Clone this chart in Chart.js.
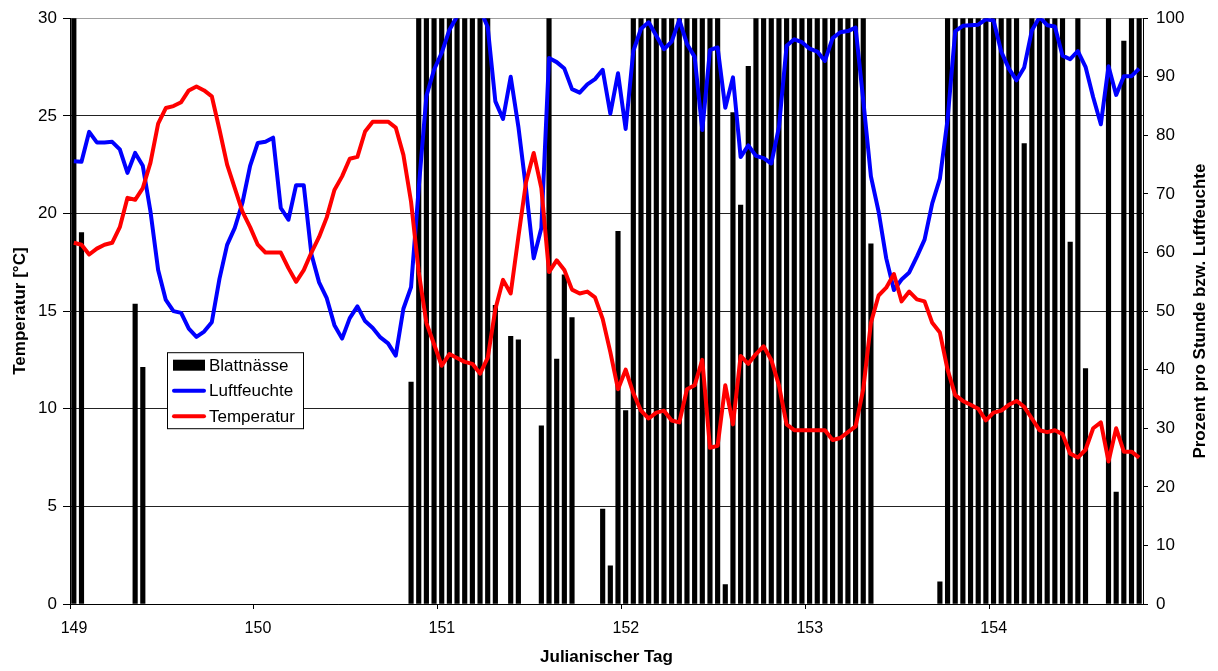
<!DOCTYPE html>
<html lang="de">
<head>
<meta charset="utf-8">
<title>Blattnässe, Luftfeuchte und Temperatur</title>
<script src="https://cdn.jsdelivr.net/npm/chart.js@4.4.1/dist/chart.umd.min.js"></script>
<style>
  html, body { margin: 0; padding: 0; background: #fff; }
  #wrap { width: 1218px; height: 671px; }
</style>
</head>
<body>
<div id="wrap"><canvas id="chart" width="1218" height="671"></canvas></div>
<script>
// Stundenwerte ab Tag 149, 0:00 Uhr
const ersterTag = 149;
const achsenTage = [149, 150, 151, 152, 153, 154];

// Temperatur [°C], je Tag 24 Stundenwerte
const temp149 = [18.5, 18.4, 17.9, 18.2, 18.4, 18.5, 19.3, 20.8, 20.7, 21.3, 22.6, 24.6, 25.4, 25.5, 25.7, 26.3, 26.5, 26.3, 26.0, 24.3, 22.5, 21.3, 20.1, 19.3];
const temp150 = [18.4, 18.0, 18.0, 18.0, 17.2, 16.5, 17.1, 18.0, 18.8, 19.8, 21.2, 21.9, 22.8, 22.9, 24.2, 24.7, 24.7, 24.7, 24.4, 23.0, 20.6, 17.0, 14.4, 13.3];
const temp151 = [12.2, 12.8, 12.6, 12.4, 12.3, 11.8, 12.6, 15.1, 16.6, 15.9, 18.8, 21.6, 23.1, 21.3, 17.0, 17.6, 17.1, 16.1, 15.9, 16.0, 15.7, 14.6, 12.9, 11.0];
const temp152 = [12.0, 10.8, 9.9, 9.5, 9.8, 9.9, 9.4, 9.3, 11.0, 11.2, 12.5, 8.0, 8.1, 11.2, 9.2, 12.7, 12.3, 12.8, 13.2, 12.5, 11.2, 9.2, 8.9, 8.9];
const temp153 = [8.9, 8.9, 8.9, 8.4, 8.5, 8.8, 9.1, 11.0, 14.4, 15.8, 16.2, 16.9, 15.5, 16.0, 15.6, 15.5, 14.4, 13.9, 12.0, 10.7, 10.4, 10.2, 10.0, 9.4];
const temp154 = [9.8, 9.9, 10.2, 10.4, 10.1, 9.5, 8.9, 8.8, 8.9, 8.7, 7.7, 7.5, 7.9, 9.0, 9.3, 7.3, 9.0, 7.8, 7.8, 7.5];

// relative Luftfeuchte [%]
const rf149 = [75.6, 75.5, 80.6, 78.8, 78.8, 78.9, 77.6, 73.6, 77.0, 74.8, 67.0, 57.0, 51.9, 50.0, 49.7, 47.0, 45.6, 46.5, 48.1, 55.5, 61.3, 64.2, 68.5, 74.8];
const rf150 = [78.7, 78.9, 79.6, 67.6, 65.6, 71.5, 71.5, 59.7, 54.9, 52.2, 47.6, 45.3, 48.8, 50.8, 48.3, 47.1, 45.5, 44.5, 42.4, 50.4, 54.1, 71.0, 86.7, 91.2];
const rf151 = [94.1, 98.0, 100.3, 102.5, 102.5, 101.5, 98.5, 85.8, 82.8, 90.0, 81.5, 70.9, 59.0, 64.2, 93.2, 92.5, 91.4, 87.9, 87.3, 88.7, 89.6, 91.2, 83.7, 90.6];
const rf152 = [81.1, 94.4, 98.2, 99.3, 97.0, 94.7, 96.0, 99.7, 95.6, 93.4, 80.9, 94.6, 95.0, 84.7, 89.9, 76.3, 78.3, 76.5, 76.1, 75.2, 81.4, 95.3, 96.4, 95.9];
const rf153 = [94.8, 94.3, 92.7, 96.6, 97.6, 97.8, 98.4, 86.0, 73.0, 67.0, 59.0, 53.6, 55.4, 56.6, 59.3, 62.2, 68.4, 72.6, 82.7, 97.8, 98.7, 98.8, 98.9, 99.8];
const rf154 = [99.6, 94.3, 91.4, 89.4, 91.6, 97.9, 100.2, 98.8, 98.6, 93.6, 93.0, 94.4, 91.7, 86.5, 81.9, 91.8, 86.9, 90.1, 90.1, 91.4];

// Blattnässe [% der Stunde]
const bn149 = [100, 63.4, 0, 0, 0, 0, 0, 0, 51.2, 40.4, 0, 0, 0, 0, 0, 0, 0, 0, 0, 0, 0, 0, 0, 0];
const bn150 = [0, 0, 0, 0, 0, 0, 0, 0, 0, 0, 0, 0, 0, 0, 0, 0, 0, 0, 0, 0, 37.9, 100, 100, 100];
const bn151 = [100, 100, 100, 100, 100, 100, 100, 51.0, 0, 45.7, 45.1, 0, 0, 30.4, 100, 41.8, 56.2, 48.9, 0, 0, 0, 16.2, 6.5, 63.6];
const bn152 = [33.0, 100, 100, 100, 100, 100, 100, 100, 100, 100, 100, 100, 100, 3.3, 83.9, 68.1, 91.8, 100, 100, 100, 100, 100, 100, 100];
const bn153 = [100, 100, 100, 100, 100, 100, 100, 100, 61.5, 0, 0, 0, 0, 0, 0, 0, 0, 3.8, 100, 100, 100, 100, 100, 100];
const bn154 = [100, 100, 100, 100, 78.6, 100, 100, 100, 100, 100, 61.8, 100, 40.2, 0, 0, 100, 19.1, 96.1, 100, 100];

const temperatur = [].concat(temp149, temp150, temp151, temp152, temp153, temp154);
const luftfeuchte = [].concat(rf149, rf150, rf151, rf152, rf153, rf154);
const blattnaesse = [].concat(bn149, bn150, bn151, bn152, bn153, bn154);

// Messzeitpunkt jeweils in der Mitte der Stunde, als Julianischer Tag
const zeit = temperatur.map((_, i) => ersterTag + (i + 0.5) / 24);
const letzterZeitpunkt = ersterTag + temperatur.length / 24;
const punkte = werte => werte.map((v, i) => ({ x: zeit[i], y: v }));

const SCHRIFT = "'Liberation Sans', Arial, sans-serif";
const titelRechts = 'Prozent pro Stunde bzw. Luftfeuchte';

// Legende als Kasten innerhalb der Zeichenfläche
const legendeImDiagramm = {
  id: 'legendeImDiagramm',
  afterDraw(chart) {
    const { ctx, chartArea } = chart;
    const x0 = chartArea.left + 97, y0 = chartArea.top + 334, w = 137, h = 77;
    ctx.save();
    ctx.fillStyle = '#fff';
    ctx.fillRect(x0, y0, w, h);
    ctx.strokeStyle = '#000';
    ctx.lineWidth = 1;
    ctx.strokeRect(x0 + 0.5, y0 + 0.5, w - 1, h - 1);
    ctx.font = '17px ' + SCHRIFT;
    ctx.textBaseline = 'middle';
    ctx.textAlign = 'left';
    chart.data.datasets.forEach((ds, i) => {
      const cy = y0 + 13 + i * 25.5;
      if (ds.type === 'bar') {
        ctx.fillStyle = ds.backgroundColor;
        ctx.fillRect(x0 + 6, cy - 5.5, 32, 11);
      } else {
        ctx.strokeStyle = ds.borderColor;
        ctx.lineWidth = 4;
        ctx.lineCap = 'round';
        ctx.beginPath();
        ctx.moveTo(x0 + 7, cy);
        ctx.lineTo(x0 + 37, cy);
        ctx.stroke();
      }
      ctx.fillStyle = '#000';
      ctx.fillText(ds.label, x0 + 42, cy + 1);
    });
    ctx.restore();
  }
};

// Titel der rechten Achse, von unten nach oben gelesen
const rechterAchsentitel = {
  id: 'rechterAchsentitel',
  afterDraw(chart) {
    const { ctx, chartArea } = chart;
    ctx.save();
    ctx.translate(chart.width - 18, (chartArea.top + chartArea.bottom) / 2);
    ctx.rotate(-Math.PI / 2);
    ctx.font = 'bold 17px ' + SCHRIFT;
    ctx.fillStyle = '#000';
    ctx.textAlign = 'center';
    ctx.textBaseline = 'middle';
    ctx.fillText(titelRechts, 0, 0);
    ctx.restore();
  }
};

new Chart(document.getElementById('chart'), {
  type: 'bar',
  data: {
    datasets: [
      {
        type: 'bar',
        label: 'Blattnässe',
        // Stunden ohne Blattnässe bekommen keinen Balken
        data: punkte(blattnaesse).filter(p => p.y > 0),
        yAxisID: 'y2',
        backgroundColor: '#000',
        borderWidth: 0,
        barThickness: 4.5,
        grouped: false,
        order: 3
      },
      {
        type: 'line',
        label: 'Luftfeuchte',
        data: punkte(luftfeuchte),
        yAxisID: 'y2',
        borderColor: '#0000ff',
        borderWidth: 4,
        borderJoinStyle: 'round',
        pointRadius: 0,
        tension: 0,
        clip: 0,
        order: 2
      },
      {
        type: 'line',
        label: 'Temperatur',
        data: punkte(temperatur),
        yAxisID: 'y',
        borderColor: '#ff0000',
        borderWidth: 4,
        borderJoinStyle: 'round',
        pointRadius: 0,
        tension: 0,
        clip: 0,
        order: 1
      }
    ]
  },
  options: {
    responsive: false,
    devicePixelRatio: 1,
    animation: false,
    events: [],
    layout: { padding: { top: 15, left: 0, right: 0, bottom: 0 } },
    plugins: { legend: { display: false }, tooltip: { enabled: false } },
    scales: {
      x: {
        type: 'linear',
        min: ersterTag,
        max: letzterZeitpunkt,
        offset: false,
        afterBuildTicks: s => { s.ticks = achsenTage.map(v => ({ value: v })); },
        afterFit: s => { s.height = 67; },
        grid: { offset: false, drawOnChartArea: false, tickLength: 5, tickColor: '#000' },
        border: { color: '#000', width: 1 },
        ticks: {
          font: { family: SCHRIFT, size: 16 },
          color: '#000',
          padding: 10,
          labelOffset: 4,
          maxRotation: 0,
          autoSkip: false,
          callback: v => String(v)
        },
        title: {
          display: true,
          text: 'Julianischer Tag',
          color: '#000',
          font: { family: SCHRIFT, size: 17, weight: 'bold' },
          padding: { top: 0, bottom: 3 }
        }
      },
      y: {
        position: 'left',
        min: 0,
        max: 30,
        afterFit: s => { s.width = 70; },
        grid: {
          color: c => (c.tick && c.tick.value === 30) ? '#a0a0a0' : '#222',
          tickLength: 7,
          tickColor: '#000'
        },
        border: { color: '#000', width: 1 },
        ticks: { stepSize: 5, font: { family: SCHRIFT, size: 17 }, color: '#000', padding: 6 },
        title: {
          display: true,
          text: 'Temperatur [°C]',
          color: '#000',
          font: { family: SCHRIFT, size: 17, weight: 'bold' },
          padding: { top: 10, bottom: 0 }
        }
      },
      y2: {
        position: 'right',
        min: 0,
        max: 100,
        afterFit: s => { s.width = 75; },
        grid: { drawOnChartArea: false, tickLength: 5, tickColor: '#000' },
        border: { color: '#000', width: 1 },
        ticks: { stepSize: 10, font: { family: SCHRIFT, size: 17 }, color: '#000', padding: 8 }
      }
    }
  },
  plugins: [legendeImDiagramm, rechterAchsentitel]
});
</script>
</body>
</html>
